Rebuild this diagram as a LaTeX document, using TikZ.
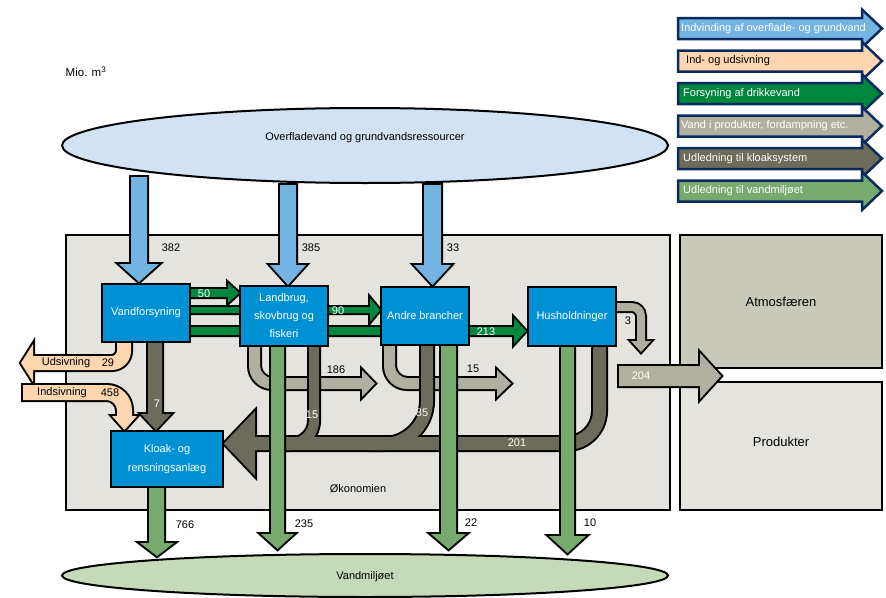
\documentclass[tikz,border=0pt]{standalone}
\usepackage{fontspec}
\setmainfont{Liberation Sans}
\usetikzlibrary{shapes.geometric}
\definecolor{ellblue}{HTML}{D0E2F4}
\definecolor{econ}{HTML}{E4E3DE}
\definecolor{atm}{HTML}{C9C9BC}
\definecolor{boxblue}{HTML}{0090D4}
\definecolor{absblue}{HTML}{74B4E2}
\definecolor{peach}{HTML}{FDD5AE}
\definecolor{supgreen}{HTML}{00863D}
\definecolor{prodgray}{HTML}{B1B0A0}
\definecolor{sewage}{HTML}{6D6B59}
\definecolor{disgreen}{HTML}{78AA6F}
\definecolor{ellgreen}{HTML}{C7DAB7}
\definecolor{navy}{HTML}{0B2A5E}

\newcommand{\absshapes}[1]{%
 \path[#1] (131,177) -- (147,177) -- (147,264) -- (159,264) -- (139,282) -- (119,264) -- (131,264) -- cycle;
 \path[#1] (280,185) -- (296,185) -- (296,265) -- (306,265) -- (288,285) -- (270,265) -- (280,265) -- cycle;
 \path[#1] (424,185) -- (441,185) -- (441,265) -- (451,265) -- (432.5,285) -- (414,265) -- (424,265) -- cycle;
}
\newcommand{\peachshapes}[1]{%
 \path[#1] (131,342) -- (131,351) .. controls (131,361.5) and (122.5,370) .. (112,370) -- (33,370) -- (33,382) -- (21,363) -- (33,344) -- (33,356) -- (112,356) .. controls (114.2,356) and (117,353.2) .. (117,351) -- (117,342) -- cycle;
 \path[#1] (23,385) -- (107,385) .. controls (120.8,385) and (132,396.2) .. (132,410) -- (132,416) -- (137,416) -- (124.5,430) -- (112,416) -- (117,416) -- (117,410) .. controls (117,405) and (112,400) .. (107,400) -- (23,400) -- cycle;
}
\newcommand{\supshapes}[1]{%
 \path[#1] (190,289) -- (228,289) -- (228,283) -- (239,293) -- (228,303) -- (228,297) -- (190,297) -- cycle;
 \path[#1] (190,307) -- (370,307) -- (370,298) -- (380,310) -- (370,322) -- (370,313) -- (190,313) -- cycle;
 \path[#1] (190,327) -- (514,327) -- (514,318) -- (526,331) -- (514,344) -- (514,335) -- (190,335) -- cycle;
}
\newcommand{\grayshapes}[1]{%
 \path[#1] (249,346) -- (249,366) .. controls (249,378.7) and (259.3,389) .. (272,389) -- (362,389) -- (362,397) -- (375,383.5) -- (362,370) -- (362,378) -- (272,378) .. controls (265.9,378) and (260,372.1) .. (260,366) -- (260,346) -- cycle;
 \path[#1] (384,345) -- (384,366) .. controls (384,378.7) and (394.3,389) .. (407,389) -- (497,389) -- (497,397) -- (511,383.5) -- (497,370) -- (497,378) -- (407,378) .. controls (400.9,378) and (395,372.1) .. (395,366) -- (395,345) -- cycle;
 \path[#1] (616,303) -- (632,303) .. controls (639.2,303) and (645,308.8) .. (645,316) -- (645,341) -- (651,341) -- (641,352) -- (631,341) -- (637,341) -- (637,316) .. controls (637,313.8) and (634.2,311) .. (632,311) -- (616,311) -- cycle;
}
\newcommand{\outshape}[1]{%
 \path[#1] (619,366) -- (700,366) -- (700,353) -- (721,376) -- (700,399) -- (700,386) -- (619,386) -- cycle;
}
\newcommand{\sewshapes}[1]{%
 \path[#1] (148,342) -- (162,342) -- (162,414) -- (171,414) -- (156,430) -- (141,414) -- (148,414) -- cycle;
 \path[#1] (309,346) -- (319,346) -- (319,421) .. controls (319,437) and (306,450) .. (290,450) -- (280,450) -- (280,439) -- (290,439) .. controls (299.9,439) and (309,430.9) .. (309,421) -- cycle;
 \path[#1] (421,344) -- (433,344) -- (433,401) .. controls (433,428) and (411,450) .. (384,450) -- (370,450) -- (370,438) -- (384,438) .. controls (403.9,438) and (421,420.9) .. (421,401) -- cycle;
 \path[#1] (606,347) -- (606,411) .. controls (606,432.5) and (588.5,450) .. (567,450) -- (255,450) -- (255,476) -- (224,443.5) -- (255,411) -- (255,437) -- (567,437) .. controls (581.4,437) and (593,425.4) .. (593,411) -- (593,347) -- cycle;
}
\newcommand{\disshapes}[1]{%
 \path[#1] (149,487) -- (164,487) -- (164,543) -- (174,543) -- (157,556) -- (140,543) -- (149,543) -- cycle;
 \path[#1] (271,346) -- (284,346) -- (284,534) -- (294,534) -- (277.5,549) -- (261,534) -- (271,534) -- cycle;
 \path[#1] (441,345) -- (456,345) -- (456,534) -- (466,534) -- (448.5,549) -- (431,534) -- (441,534) -- cycle;
 \path[#1] (561,347) -- (574,347) -- (574,536) -- (586,536) -- (567.5,553) -- (549,536) -- (561,536) -- cycle;
}
\newcommand{\legarrow}[5]{%
 \path[draw=navy,line width=2.5pt,fill=#3] (678,{#2-10.5}) -- (862,{#2-10.5}) -- (862,{#2-19}) -- (882,#2) -- (862,{#2+19}) -- (862,{#2+10.5}) -- (678,{#2+10.5}) -- cycle;
 \node[anchor=west,text=#4,inner sep=0pt] (#1) at (681,#2) {#5};
}

\begin{document}
\begin{tikzpicture}[x=1pt,y=-1pt,font=\fontsize{11}{13}\selectfont,
  stroke/.style={draw=black,line width=4pt,fill=#1},
  bluebox/.style={draw=black,line width=2.5pt,fill=boxblue,text=white,align=center,inner sep=1pt},
  bigbox/.style={draw=black,line width=2.5pt,inner sep=0pt},
  num/.style={inner sep=0pt,text=black},
  wnum/.style={inner sep=0pt,text=white}]
\useasboundingbox (0,0) rectangle (886,597);

% economy and outer boxes
\node[bigbox,fill=econ,line width=2pt,minimum width=604pt,minimum height=275pt] (econ) at (368,372.5) {};
\node[bigbox,fill=atm,minimum width=202pt,minimum height=133pt,font=\fontsize{13}{15}\selectfont] (atm) at (781,301.5) {Atmosfæren};
\node[bigbox,fill=econ,minimum width=202pt,minimum height=128pt] (prod) at (781,446) {};
\node[inner sep=0pt,font=\fontsize{13}{15}\selectfont] (prodtxt) at (781,442) {Produkter};

% ellipses
\node[ellipse,draw=black,line width=2pt,fill=ellblue,minimum width=606pt,minimum height=75pt] (res) at (365,145.5) {};
\node[inner sep=0pt] (restxt) at (365,138) {Overfladevand og grundvandsressourcer};
\node[ellipse,draw=black,line width=2pt,fill=ellgreen,minimum width=606pt,minimum height=43pt] (env) at (365,575.5) {};
\node[inner sep=0pt] (envtxt) at (365,577) {Vandmiljøet};

\node[inner sep=0pt,font=\fontsize{11.5}{13}\selectfont] (unit) at (86,72) {Mio. m\textsuperscript{3}};
\node[inner sep=0pt] (oek) at (358,489) {Økonomien};

% flows
\peachshapes{stroke=peach}\peachshapes{fill=peach}
\grayshapes{stroke=prodgray}\grayshapes{fill=prodgray}
\sewshapes{stroke=sewage}\sewshapes{fill=sewage}
\disshapes{stroke=disgreen}\disshapes{fill=disgreen}
\absshapes{stroke=absblue}\absshapes{fill=absblue}
\supshapes{stroke=supgreen}\supshapes{fill=supgreen}

% 204 arrow over the outer boxes
\outshape{stroke=prodgray}\outshape{fill=prodgray}

% process boxes
\node[bluebox,minimum width=88pt,minimum height=58pt] (vf) at (146,313) {Vandforsyning};
\node[bluebox,minimum width=88pt,minimum height=60pt,font=\fontsize{11}{18}\selectfont] (lb) at (284,316) {Landbrug,\\skovbrug og\\fiskeri};
\node[bluebox,minimum width=88pt,minimum height=58pt] (ab) at (425,316) {Andre brancher};
\node[bluebox,minimum width=88pt,minimum height=59pt] (hh) at (572,316.5) {Husholdninger};
\node[bluebox,minimum width=112pt,minimum height=56pt,font=\fontsize{11}{19}\selectfont] (kl) at (167,459) {Kloak- og\\rensningsanlæg};

% labels
\node[num] (n382) at (171,248) {382};
\node[num] (n385) at (311,248) {385};
\node[num] (n33) at (453,248) {33};
\node[wnum] (n50) at (204,294) {50};
\node[wnum] (n90) at (338,311) {90};
\node[wnum] (n213) at (486,332) {213};
\node[num] (n186) at (336,370) {186};
\node[num] (n15g) at (473,369) {15};
\node[num] (n3) at (628,321) {3};
\node[wnum] (n204) at (641,376) {204};
\node[wnum] (n7) at (157,404) {7};
\node[wnum] (n15s) at (312,415) {15};
\node[wnum] (n85) at (422,413) {85};
\node[wnum] (n201) at (517,443) {201};
\node[num] (n766) at (185,525) {766};
\node[num] (n235) at (304,524) {235};
\node[num] (n22) at (471,523) {22};
\node[num] (n10) at (590,523) {10};
\node[num] (uds) at (66,363) {Udsivning};
\node[num] (n29) at (108,363) {29};
\node[num] (inds) at (62,393) {Indsivning};
\node[num] (n458) at (110,393) {458};

% legend
\legarrow{l1}{28.5}{absblue}{white}{Indvinding af overflade- og grundvand}
\legarrow{l2}{61}{peach}{black}{\hspace{5pt}Ind- og udsivning}
\legarrow{l3}{93.5}{supgreen}{white}{\hspace{2pt}Forsyning af drikkevand}
\legarrow{l4}{126}{prodgray}{white}{Vand i produkter, fordampning etc.}
\legarrow{l5}{158.5}{sewage}{white}{\hspace{2pt}Udledning til kloaksystem}
\legarrow{l6}{191}{disgreen}{white}{\hspace{2pt}Udledning til vandmiljøet}
\end{tikzpicture}
\end{document}
